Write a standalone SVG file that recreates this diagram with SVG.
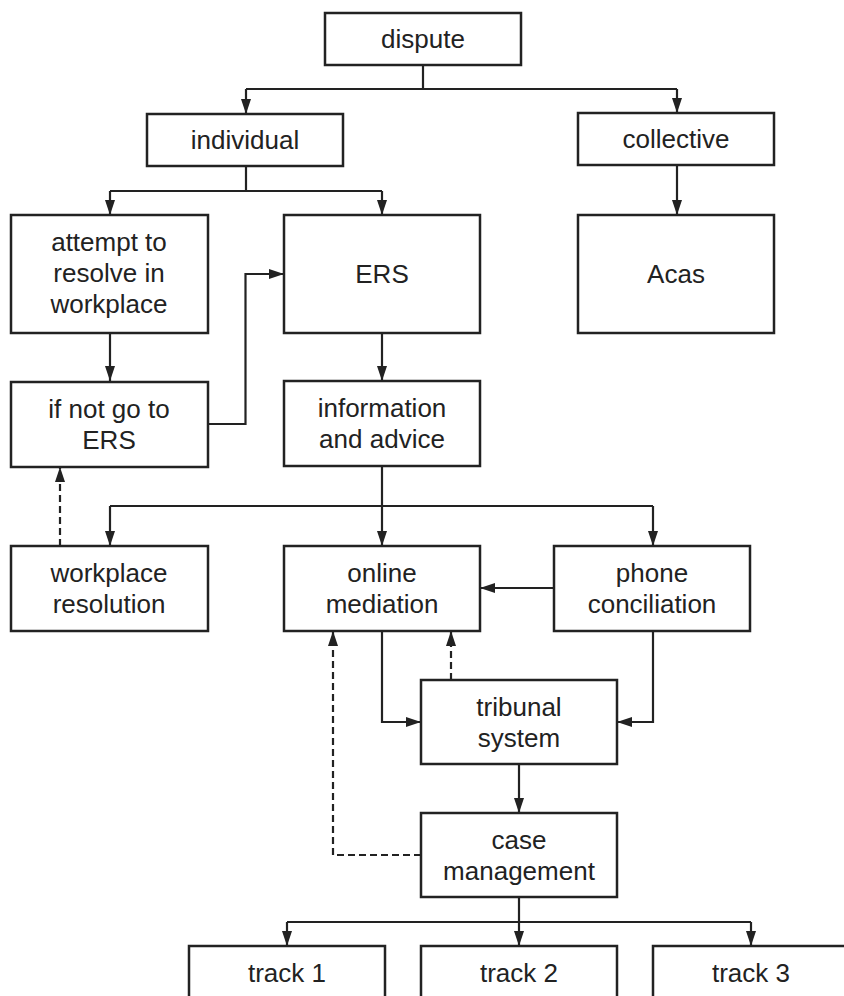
<svg xmlns="http://www.w3.org/2000/svg" width="844" height="996" viewBox="0 0 844 996">
<style>
.box{fill:#fff;stroke:#222;stroke-width:2.5}
.t{font-family:"Liberation Sans",Arial,sans-serif;font-size:26px;fill:#222;text-anchor:middle}
.c{fill:none;stroke:#222;stroke-width:2.2}
.d{fill:none;stroke:#222;stroke-width:2.2;stroke-dasharray:7 4}
</style>
<defs>
<marker id="ah" markerUnits="userSpaceOnUse" markerWidth="15" markerHeight="10" refX="15" refY="5" orient="auto">
<path d="M0,0 L15,5 L0,10 z" fill="#222"/>
</marker>
</defs>
<rect width="844" height="996" fill="#fff"/>
<g id="connectors">
<path class="c" d="M423,65 V89 M246,89 H677" />
<path class="c" d="M246,89 V114" marker-end="url(#ah)"/>
<path class="c" d="M677,89 V113" marker-end="url(#ah)"/>
<path class="c" d="M246,166 V191 M110,191 H382"/>
<path class="c" d="M110,191 V215" marker-end="url(#ah)"/>
<path class="c" d="M382,191 V215" marker-end="url(#ah)"/>
<path class="c" d="M677,165 V215" marker-end="url(#ah)"/>
<path class="c" d="M110,333 V381" marker-end="url(#ah)"/>
<path class="c" d="M208,424 H245.5 V274 H284" marker-end="url(#ah)"/>
<path class="c" d="M382,333 V381" marker-end="url(#ah)"/>
<path class="c" d="M382,466 V506 M110,506 H653"/>
<path class="c" d="M110,506 V546" marker-end="url(#ah)"/>
<path class="c" d="M382,506 V546" marker-end="url(#ah)"/>
<path class="c" d="M653,506 V546" marker-end="url(#ah)"/>
<path class="c" d="M554,588 H480" marker-end="url(#ah)"/>
<path class="d" d="M60,546 V467" marker-end="url(#ah)"/>
<path class="c" d="M382,631 V722 H421" marker-end="url(#ah)"/>
<path class="c" d="M653,631 V722 H617" marker-end="url(#ah)"/>
<path class="d" d="M451,680 V631" marker-end="url(#ah)"/>
<path class="c" d="M519,764 V813" marker-end="url(#ah)"/>
<path class="d" d="M421,855 H333 V631" marker-end="url(#ah)"/>
<path class="c" d="M519,897 V922 M287,922 H751"/>
<path class="c" d="M287,922 V946" marker-end="url(#ah)"/>
<path class="c" d="M519,922 V946" marker-end="url(#ah)"/>
<path class="c" d="M751,922 V946" marker-end="url(#ah)"/>
</g>
<g id="dispute"><rect class="box" x="325" y="13" width="196" height="52"/><text class="t" x="423" y="48">dispute</text></g>
<g id="individual"><rect class="box" x="147" y="114" width="196" height="52"/><text class="t" x="245" y="149">individual</text></g>
<g id="collective"><rect class="box" x="578" y="113" width="196" height="52"/><text class="t" x="676" y="148">collective</text></g>
<g id="attempt"><rect class="box" x="11" y="215" width="197" height="118"/><text class="t" x="109" y="251">attempt to</text><text class="t" x="109" y="282">resolve in</text><text class="t" x="109" y="313">workplace</text></g>
<g id="ers"><rect class="box" x="284" y="215" width="196" height="118"/><text class="t" x="382" y="283">ERS</text></g>
<g id="acas"><rect class="box" x="578" y="215" width="196" height="118"/><text class="t" x="676" y="283">Acas</text></g>
<g id="ifnot"><rect class="box" x="11" y="382" width="197" height="85"/><text class="t" x="109" y="418">if not go to</text><text class="t" x="109" y="449">ERS</text></g>
<g id="info"><rect class="box" x="284" y="381" width="196" height="85"/><text class="t" x="382" y="417">information</text><text class="t" x="382" y="448">and advice</text></g>
<g id="workplace"><rect class="box" x="11" y="546" width="197" height="85"/><text class="t" x="109" y="582">workplace</text><text class="t" x="109" y="613">resolution</text></g>
<g id="online"><rect class="box" x="284" y="546" width="196" height="85"/><text class="t" x="382" y="582">online</text><text class="t" x="382" y="613">mediation</text></g>
<g id="phone"><rect class="box" x="554" y="546" width="196" height="85"/><text class="t" x="652" y="582">phone</text><text class="t" x="652" y="613">conciliation</text></g>
<g id="tribunal"><rect class="box" x="421" y="680" width="196" height="84"/><text class="t" x="519" y="716">tribunal</text><text class="t" x="519" y="747">system</text></g>
<g id="case"><rect class="box" x="421" y="813" width="196" height="84"/><text class="t" x="519" y="849">case</text><text class="t" x="519" y="880">management</text></g>
<g id="track1"><rect class="box" x="189" y="946" width="196" height="54"/><text class="t" x="287" y="982">track 1</text></g>
<g id="track2"><rect class="box" x="421" y="946" width="196" height="54"/><text class="t" x="519" y="982">track 2</text></g>
<g id="track3"><rect class="box" x="653" y="946" width="196" height="54"/><text class="t" x="751" y="982">track 3</text></g>
</svg>
